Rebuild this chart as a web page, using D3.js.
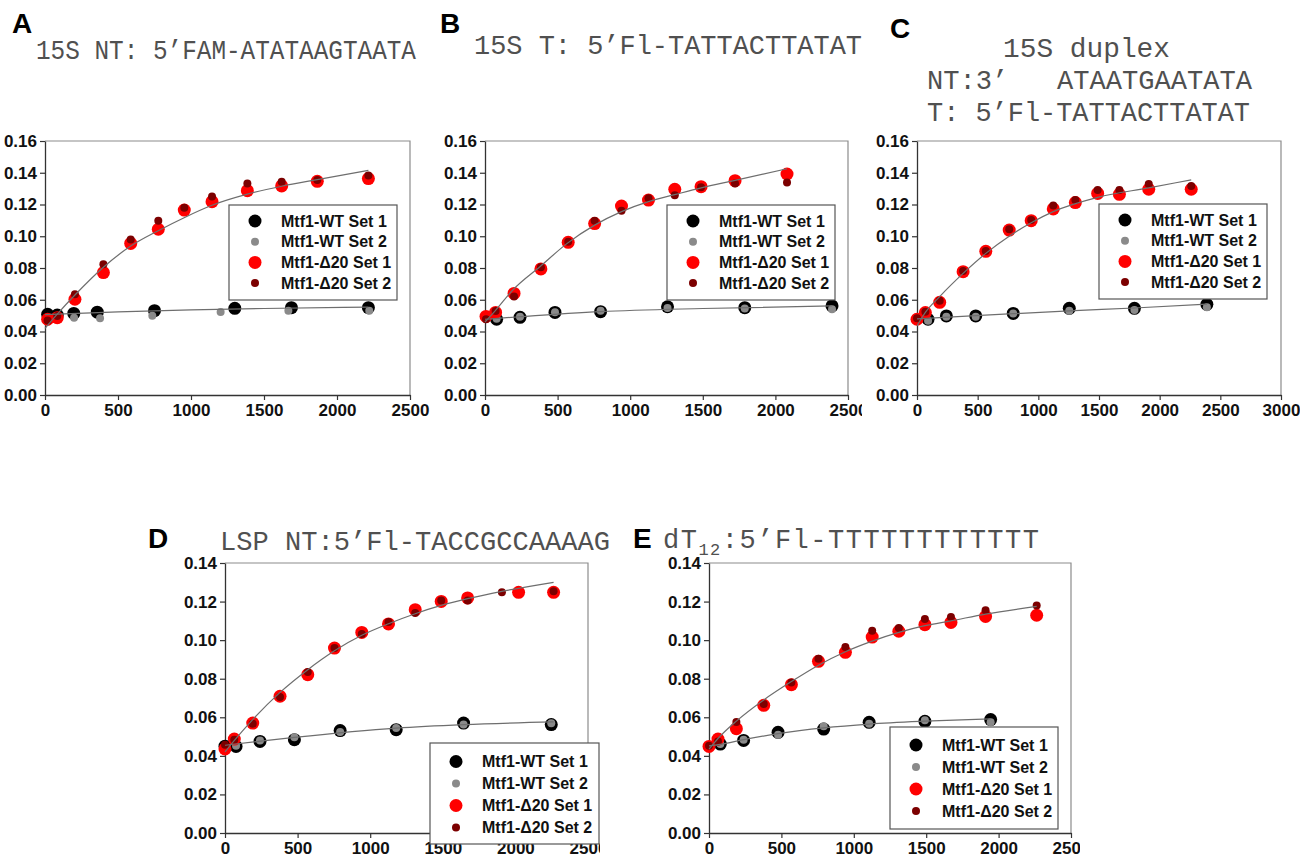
<!DOCTYPE html>
<html>
<head>
<meta charset="utf-8">
<script src="https://cdn.jsdelivr.net/npm/d3@7"></script>
<style>
    body { margin: 0; background: #fff; }
    text { font-family: "Liberation Sans", Arial, sans-serif; }
    .title { font-family: "Liberation Mono", "Courier New", monospace; fill: #505050; }
</style>
</head>
<body>
<div id="chart"></div>
<script>
// ---- data: [time (s), signal] ----
// A: 15S NT
const aWt1 = [[18,0.0508],[84,0.0504],[197,0.0514],[358,0.0522],[750,0.0531],[1300,0.0546],[1688,0.055],[2215,0.055]];
const aWt2 = [[18,0.0462],[199,0.0487],[377,0.0483],[735,0.050],[1203,0.0523],[1667,0.0531],[2221,0.0531]];
const aD1 = [[18,0.0477],[84,0.0487],[205,0.0603],[400,0.0771],[587,0.0955],[776,0.1044],[954,0.1165],[1144,0.1218],[1386,0.1287],[1621,0.1317],[1865,0.1346],[2215,0.1363]];
const aD2 = [[18,0.047],[84,0.0498],[205,0.0634],[400,0.0823],[587,0.098],[776,0.1098],[954,0.118],[1144,0.125],[1386,0.1333],[1621,0.1344],[1865,0.1354],[2215,0.1382]];
const aFitWt = [[0,0.0506],[500,0.0524],[1000,0.0536],[1500,0.0545],[2215,0.0554]];
const aFitD = [[0,0.042],[84,0.051],[205,0.063],[400,0.0805],[582,0.0935],[776,0.1035],[960,0.112],[1144,0.1195],[1386,0.1265],[1621,0.1315],[1865,0.1357],[2215,0.1415]];

// B: 15S T
const bWt1 = [[80,0.0477],[241,0.0489],[482,0.052],[796,0.0525],[1257,0.0556],[1789,0.055],[2390,0.0561]];
const bWt2 = [[80,0.048],[241,0.0493],[482,0.0522],[796,0.053],[1257,0.0548],[1789,0.0545],[2390,0.054]];
const bD1 = [[7,0.0495],[73,0.052],[200,0.064],[385,0.0794],[573,0.0962],[755,0.108],[940,0.119],[1126,0.1228],[1307,0.1296],[1488,0.1312],[1722,0.135],[2080,0.1392]];
const bD2 = [[7,0.0477],[73,0.0529],[200,0.062],[385,0.0804],[573,0.0966],[755,0.1098],[940,0.1161],[1126,0.1239],[1307,0.1258],[1488,0.1308],[1722,0.1333],[2080,0.1338]];
const bFitWt = [[0,0.0477],[241,0.0493],[796,0.0525],[1500,0.0545],[2390,0.0561]];
const bFitD = [[0,0.046],[70,0.053],[190,0.066],[378,0.0808],[566,0.0955],[755,0.107],[940,0.1155],[1126,0.1218],[1307,0.1262],[1489,0.1305],[1722,0.1352],[2080,0.1425]];

// C: 15S duplex
const cWt1 = [[91,0.0477],[242,0.0498],[484,0.0498],[793,0.0514],[1255,0.0546],[1792,0.0546],[2389,0.0571]];
const cWt2 = [[91,0.0468],[242,0.0493],[484,0.0493],[793,0.0514],[1255,0.0531],[1792,0.0535],[2389,0.0552]];
const cD1 = [[0,0.0477],[69,0.0519],[187,0.0584],[380,0.0777],[567,0.0905],[760,0.1039],[941,0.1098],[1123,0.1172],[1305,0.1212],[1489,0.127],[1668,0.1264],[1910,0.1296],[2260,0.1296]];
const cD2 = [[0,0.0483],[69,0.0525],[187,0.0594],[380,0.0781],[567,0.0907],[760,0.1044],[941,0.1102],[1123,0.1193],[1305,0.1228],[1489,0.1291],[1668,0.1291],[1910,0.1329],[2260,0.1317]];
const cFitWt = [[0,0.0479],[484,0.050],[1255,0.053],[1792,0.0548],[2389,0.0572]];
const cFitD = [[0,0.0435],[69,0.052],[187,0.062],[380,0.0766],[567,0.0892],[760,0.100],[941,0.1085],[1123,0.1155],[1489,0.1245],[1910,0.1305],[2260,0.1355]];

// D: LSP NT
const dWt1 = [[0,0.045],[76,0.0449],[241,0.0475],[478,0.0484],[793,0.0531],[1179,0.0536],[1643,0.057],[2247,0.0562]];
const dWt2 = [[76,0.0453],[241,0.0479],[478,0.0496],[793,0.0524],[1179,0.0544],[1643,0.0562],[2247,0.0569]];
const dD1 = [[0,0.0436],[64,0.0487],[191,0.057],[379,0.0709],[570,0.0821],[754,0.0959],[942,0.104],[1126,0.1084],[1310,0.1158],[1489,0.1201],[1671,0.1219],[2022,0.1248],[2263,0.1248]];
const dD2 = [[0,0.0458],[64,0.0484],[191,0.0567],[379,0.0705],[570,0.0835],[754,0.0959],[942,0.1032],[1126,0.1094],[1310,0.1141],[1489,0.1206],[1671,0.1206],[1907,0.1248],[2263,0.1253]];
const dFitWt = [[0,0.0455],[478,0.0496],[1179,0.0544],[1643,0.0562],[2263,0.0576]];
const dFitD = [[0,0.042],[69,0.0484],[191,0.0588],[379,0.0729],[570,0.0847],[754,0.0945],[942,0.1025],[1126,0.1085],[1310,0.1137],[1489,0.118],[1671,0.1215],[1907,0.1253],[2263,0.130]];

// E: dT12
const eWt1 = [[78,0.0461],[239,0.048],[477,0.0522],[792,0.0539],[1106,0.0574],[1491,0.0579],[1945,0.0588]];
const eWt2 = [[78,0.0461],[239,0.0484],[477,0.051],[792,0.0553],[1106,0.0567],[1491,0.0584],[1945,0.0574]];
const eD1 = [[0,0.0449],[62,0.0487],[189,0.0541],[378,0.0662],[569,0.0769],[756,0.089],[942,0.0937],[1127,0.1016],[1311,0.1046],[1491,0.108],[1671,0.1092],[1910,0.1123],[2263,0.1129]];
const eD2 = [[0,0.0453],[62,0.0475],[189,0.0576],[378,0.0669],[569,0.0781],[756,0.0904],[942,0.0964],[1127,0.1049],[1311,0.1063],[1491,0.111],[1671,0.112],[1910,0.1155],[2263,0.1179]];
const eFitWt = [[0,0.0452],[78,0.046],[239,0.0484],[477,0.0515],[792,0.0545],[1106,0.0565],[1491,0.058],[1945,0.0592]];
const eFitD = [[0,0.0435],[62,0.049],[189,0.058],[378,0.069],[569,0.0785],[756,0.087],[942,0.094],[1127,0.0995],[1311,0.104],[1491,0.1075],[1671,0.110],[1910,0.1135],[2263,0.1175]];

const legendLabels = ['Mtf1-WT Set 1', 'Mtf1-WT Set 2', 'Mtf1-Δ20 Set 1', 'Mtf1-Δ20 Set 2'];
const xTicks2500 = [0, 500, 1000, 1500, 2000, 2500];
const xTicks3000 = [0, 500, 1000, 1500, 2000, 2500, 3000];
const yTicks16 = [0, 0.02, 0.04, 0.06, 0.08, 0.10, 0.12, 0.14, 0.16];
const yTicks14 = [0, 0.02, 0.04, 0.06, 0.08, 0.10, 0.12, 0.14];

// marker styles, same order as legendLabels
const marks = [
    {color: '#000000', r: 6.5},
    {color: '#8a8a8a', r: 4},
    {color: '#ff0000', r: 6.5},
    {color: '#7c0000', r: 4}
];

const svg = d3.select('#chart')
    .append('svg')
    .attr('width', 1300)
    .attr('height', 866);

const defs = svg.append('defs');

function renderPanel(p) {
    const cp = defs.append('clipPath').attr('id', `clip-${p.letter}`);
    p.clip.forEach(c => {
        cp.append('rect')
            .attr('x', c[0]).attr('y', c[1])
            .attr('width', c[2]).attr('height', c[3]);
    });

    const g = svg.append('g').attr('clip-path', `url(#clip-${p.letter})`);

    const x = d3.scaleLinear().domain([0, p.xMax]).range([p.left, p.right]);
    const y = d3.scaleLinear().domain([0, p.yMax]).range([p.bottom, p.top]);

    // panel letter
    g.append('text')
        .attr('x', p.letterPos[0])
        .attr('y', p.letterPos[1])
        .style('font-size', '28px')
        .style('font-weight', 'bold')
        .attr('fill', '#000')
        .text(p.letter);

    // title lines
    p.titles.forEach(t => {
        const tx = g.append('text')
            .attr('class', 'title')
            .attr('x', t.x)
            .attr('y', t.y)
            .style('font-size', '27px')
            .style('white-space', 'pre')
            .attr('xml:space', 'preserve');
        if (t.sub) {
            tx.style('letter-spacing', '1.5px');
            tx.append('tspan').text(t.text[0]);
            tx.append('tspan').attr('dy', 7).style('font-size', '17px').text(t.sub);
            tx.append('tspan').attr('dy', -7).text(t.text[1]);
        } else {
            tx.text(t.text);
            if (t.len) tx.attr('textLength', t.len).attr('lengthAdjust', 'spacingAndGlyphs');
        }
    });

    // frame (top / right)
    g.append('path')
        .attr('d', `M${p.left},${p.top}H${p.right}V${p.bottom}`)
        .attr('fill', 'none')
        .attr('stroke', '#8c8c8c')
        .attr('stroke-width', 1.2);

    // axes
    const xAxis = g.append('g')
        .attr('transform', `translate(0,${p.bottom})`)
        .call(d3.axisBottom(x).tickValues(p.xTicks).tickSize(5).tickSizeOuter(0).tickFormat(d3.format('d')));
    const yAxis = g.append('g')
        .attr('transform', `translate(${p.left},0)`)
        .call(d3.axisLeft(y).tickValues(p.yTicks).tickSize(5).tickSizeOuter(0).tickFormat(d3.format('.2f')));

    [xAxis, yAxis].forEach(a => {
        a.select('.domain').attr('stroke', '#333').attr('stroke-width', 1.3);
        a.selectAll('.tick line').attr('stroke', '#333').attr('stroke-width', 1.2);
        a.selectAll('.tick text')
            .attr('fill', '#111')
            .style('font-size', '17px')
            .style('font-weight', 'bold')
            .style('font-family', '"Liberation Sans", Arial, sans-serif');
    });
    xAxis.selectAll('.tick text').attr('y', 9);
    yAxis.selectAll('.tick text').attr('x', -8);

    // points
    p.series.forEach((s, i) => {
        g.append('g')
            .selectAll('circle')
            .data(s)
            .enter()
            .append('circle')
            .attr('cx', d => x(d[0]))
            .attr('cy', d => y(d[1]))
            .attr('r', marks[i].r)
            .attr('fill', marks[i].color);
    });

    // fitted curves
    const line = d3.line()
        .x(d => x(d[0]))
        .y(d => y(d[1]))
        .curve(d3.curveMonotoneX);

    p.fits.forEach(f => {
        g.append('path')
            .datum(f)
            .attr('fill', 'none')
            .attr('stroke', '#6e6e6e')
            .attr('stroke-width', 1.2)
            .attr('d', line);
    });

    // legend
    const lg = p.legend;
    g.append('rect')
        .attr('x', lg.x).attr('y', lg.y)
        .attr('width', lg.w).attr('height', lg.h)
        .attr('fill', '#fff')
        .attr('stroke', '#555')
        .attr('stroke-width', 1.2);

    legendLabels.forEach((label, i) => {
        const cy = lg.y + lg.first + i * lg.gap;
        g.append('circle')
            .attr('cx', lg.x + 26)
            .attr('cy', cy)
            .attr('r', marks[i].r)
            .attr('fill', marks[i].color);
        g.append('text')
            .attr('x', lg.x + 52)
            .attr('y', cy)
            .attr('dy', '0.36em')
            .style('font-size', '16px')
            .style('font-weight', 'bold')
            .attr('fill', '#111')
            .text(label);
    });
}

renderPanel({
    letter: 'A', letterPos: [12, 33], clip: [[0, 0, 432, 440]],
    titles: [{text: '15S NT: 5’FAM-ATATAAGTAATA', x: 36, y: 59, len: 380}],
    left: 45, right: 410, top: 141, bottom: 395, xMax: 2500, yMax: 0.16,
    xTicks: xTicks2500, yTicks: yTicks16,
    series: [aWt1, aWt2, aD1, aD2], fits: [aFitWt, aFitD],
    legend: {x: 229, y: 205, w: 168, h: 95, first: 16, gap: 20.7}
});

renderPanel({
    letter: 'B', letterPos: [440, 33], clip: [[432, 0, 430, 440]],
    titles: [{text: '15S T: 5’Fl-TATTACTTATAT', x: 474, y: 54, len: 388}],
    left: 485, right: 848, top: 141, bottom: 395, xMax: 2500, yMax: 0.16,
    xTicks: xTicks2500, yTicks: yTicks16,
    series: [bWt1, bWt2, bD1, bD2], fits: [bFitWt, bFitD],
    legend: {x: 667, y: 205, w: 168, h: 95, first: 16, gap: 20.7}
});

renderPanel({
    letter: 'C', letterPos: [890, 38], clip: [[862, 0, 438, 440]],
    titles: [
        {text: '15S duplex', x: 1003, y: 57, len: 167},
        {text: 'NT:3’   ATAATGAATATA', x: 927, y: 89, len: 325},
        {text: 'T: 5’Fl-TATTACTTATAT', x: 927, y: 121, len: 323}
    ],
    left: 917, right: 1281, top: 141, bottom: 395, xMax: 3000, yMax: 0.16,
    xTicks: xTicks3000, yTicks: yTicks16,
    series: [cWt1, cWt2, cD1, cD2], fits: [cFitWt, cFitD],
    legend: {x: 1099, y: 204, w: 168, h: 95, first: 16, gap: 20.7}
});

renderPanel({
    letter: 'D', letterPos: [148, 548], clip: [[140, 500, 475, 60], [140, 560, 460, 306]],
    titles: [{text: 'LSP NT:5’Fl-TACCGCCAAAAG', x: 220, y: 550, len: 390}],
    left: 225, right: 588, top: 563, bottom: 833, xMax: 2500, yMax: 0.14,
    xTicks: xTicks2500, yTicks: yTicks14,
    series: [dWt1, dWt2, dD1, dD2], fits: [dFitWt, dFitD],
    legend: {x: 430, y: 743, w: 169, h: 101, first: 18.5, gap: 22}
});

renderPanel({
    letter: 'E', letterPos: [633, 548], clip: [[615, 500, 465, 366]],
    titles: [{text: ['dT', ':5’Fl-TTTTTTTTTTTT'], sub: '12', x: 663, y: 548}],
    left: 709, right: 1071, top: 563, bottom: 833, xMax: 2500, yMax: 0.14,
    xTicks: xTicks2500, yTicks: yTicks14,
    series: [eWt1, eWt2, eD1, eD2], fits: [eFitWt, eFitD],
    legend: {x: 890, y: 727, w: 168, h: 102, first: 18, gap: 22}
});
</script>
</body>
</html>
